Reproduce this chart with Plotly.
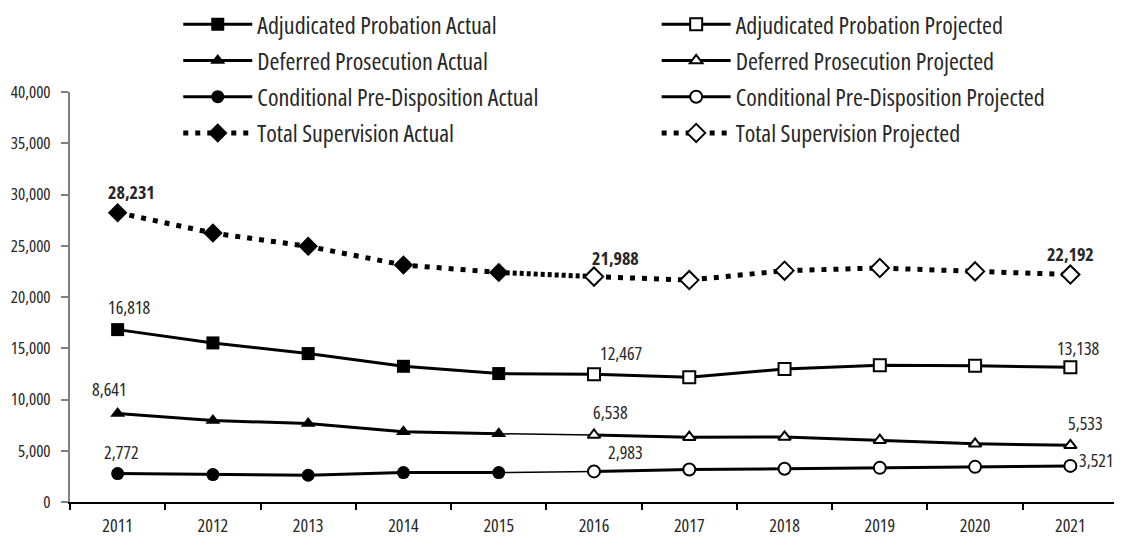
import plotly.graph_objects as go

years = ["2011", "2012", "2013", "2014", "2015", "2016", "2017", "2018", "2019", "2020", "2021"]
actual_years = years[:5]
projected_years = years[5:]

adjudicated_actual = [16818, 15520, 14480, 13240, 12530]
adjudicated_projected = [12467, 12170, 12980, 13340, 13300, 13138]
deferred_actual = [8641, 7950, 7650, 6850, 6660]
deferred_projected = [6538, 6320, 6350, 6030, 5680, 5533]
conditional_actual = [2772, 2680, 2610, 2870, 2870]
conditional_projected = [2983, 3170, 3240, 3330, 3430, 3521]
total_actual = [28231, 26240, 24940, 23120, 22400]
total_projected = [21988, 21650, 22570, 22830, 22500, 22192]

y_ticks = [0, 5000, 10000, 15000, 20000, 25000, 30000, 35000, 40000]

FONT = "Open Sans"
TEXT = "#262626"


def cond(s, weight=500):
    # Open Sans condensed face via font-stretch
    return f"<span style='font-stretch:condensed;font-weight:{weight}'>{s}</span>"


series = [
    # name, x, y, symbol, size, dash, width, legend
    ("Adjudicated Probation Actual", actual_years, adjudicated_actual, "square", 13, "solid", 3, "legend"),
    ("Adjudicated Probation Projected", projected_years, adjudicated_projected, "square-open", 12, "solid", 3, "legend2"),
    ("Deferred Prosecution Actual", actual_years, deferred_actual, "triangle-up", 13, "solid", 3, "legend"),
    ("Deferred Prosecution Projected", projected_years, deferred_projected, "triangle-up-open", 11, "solid", 3, "legend2"),
    ("Conditional Pre-Disposition Actual", actual_years, conditional_actual, "circle", 13, "solid", 3, "legend"),
    ("Conditional Pre-Disposition Projected", projected_years, conditional_projected, "circle-open", 12, "solid", 3, "legend2"),
    ("Total Supervision Actual", actual_years, total_actual, "diamond", 15, "5px,7px", 5, "legend"),
    ("Total Supervision Projected", projected_years, total_projected, "diamond-open", 14, "5px,7px", 5, "legend2"),
]

fig = go.Figure()

# connectors between last actual and first projected point
connectors = [
    (adjudicated_actual, adjudicated_projected, "solid", 3),
    (deferred_actual, deferred_projected, "solid", 1.5),
    (conditional_actual, conditional_projected, "solid", 1.5),
    (total_actual, total_projected, "4px,3px", 5),
]
for act, proj, dash, w in connectors:
    fig.add_trace(go.Scatter(
        x=[actual_years[-1], projected_years[0]], y=[act[-1], proj[0]],
        mode="lines", line=dict(color="black", width=w, dash=dash),
        showlegend=False, hoverinfo="skip",
    ))

for name, x, y, sym, size, dash, width, leg in series:
    open_marker = sym.endswith("-open")
    fig.add_trace(go.Scatter(
        x=x, y=y, name=cond(name), mode="lines+markers",
        line=dict(color="black", width=width, dash=dash),
        marker=dict(
            symbol=sym.replace("-open", ""), size=size,
            color="white" if open_marker else "black",
            line=dict(color="black", width=2 if open_marker else 0),
        ),
        legend=leg, legendgroup=name,
    ))

labels = [
    (total_actual[0], 0, 14, 21, True),
    (total_projected[0], 5, 21, 19, True),
    (total_projected[-1], 10, 0, 21, True),
    (adjudicated_actual[0], 0, 12, 23, False),
    (adjudicated_projected[0], 5, 27, 21, False),
    (adjudicated_projected[-1], 10, 8, 19, False),
    (deferred_actual[0], 0, -8, 24, False),
    (deferred_projected[0], 5, 16, 23, False),
    (deferred_projected[-1], 10, 15, 22, False),
    (conditional_actual[0], 0, 4, 22, False),
    (conditional_projected[0], 5, 31, 19, False),
    (conditional_projected[-1], 10, 26, 6, False),
]
for val, idx, dx, dy, bold in labels:
    fig.add_annotation(
        x=idx, y=val, xref="x", yref="y",
        text=cond(f"{val:,}", 700 if bold else 500),
        showarrow=False, xshift=dx, yshift=dy,
        font=dict(family=FONT, size=18, color=TEXT),
    )

legend_style = dict(
    orientation="v", yanchor="top", xanchor="left", y=1.219,
    font=dict(family=FONT, size=24, color=TEXT),
    itemwidth=69, tracegroupgap=2, bgcolor="rgba(0,0,0,0)",
    itemclick=False, itemdoubleclick=False,
)

fig.update_layout(
    width=1114, height=528,
    margin=dict(l=62, r=4, t=84, b=34, autoexpand=False),
    plot_bgcolor="white", paper_bgcolor="white",
    font=dict(family=FONT, size=16, color=TEXT),
    legend=dict(x=0.1033, **legend_style),
    legend2=dict(x=0.5598, **legend_style),
    xaxis=dict(
        type="category", categoryorder="array", categoryarray=years,
        tickvals=years, ticktext=[cond(y) for y in years],
        range=[-0.5, 10.5], showgrid=False, zeroline=False,
        showline=True, linecolor="black", linewidth=1.5,
        ticks="outside", tickson="boundaries", ticklen=6, tickcolor="black", tickwidth=1.5,
        tickfont=dict(family=FONT, size=18, color=TEXT), ticklabelstandoff=7,
    ),
    yaxis=dict(
        range=[0, 40000], tickvals=y_ticks, ticktext=[cond(f"{v:,}") for v in y_ticks],
        showgrid=False, zeroline=False,
        showline=True, linecolor="#808080", linewidth=2,
        ticks="outside", ticklen=7, tickcolor="#808080", tickwidth=1.5,
        tickfont=dict(family=FONT, size=17, color=TEXT), ticklabelstandoff=7,
    ),
    showlegend=True,
)

fig.write_html("out.html")
